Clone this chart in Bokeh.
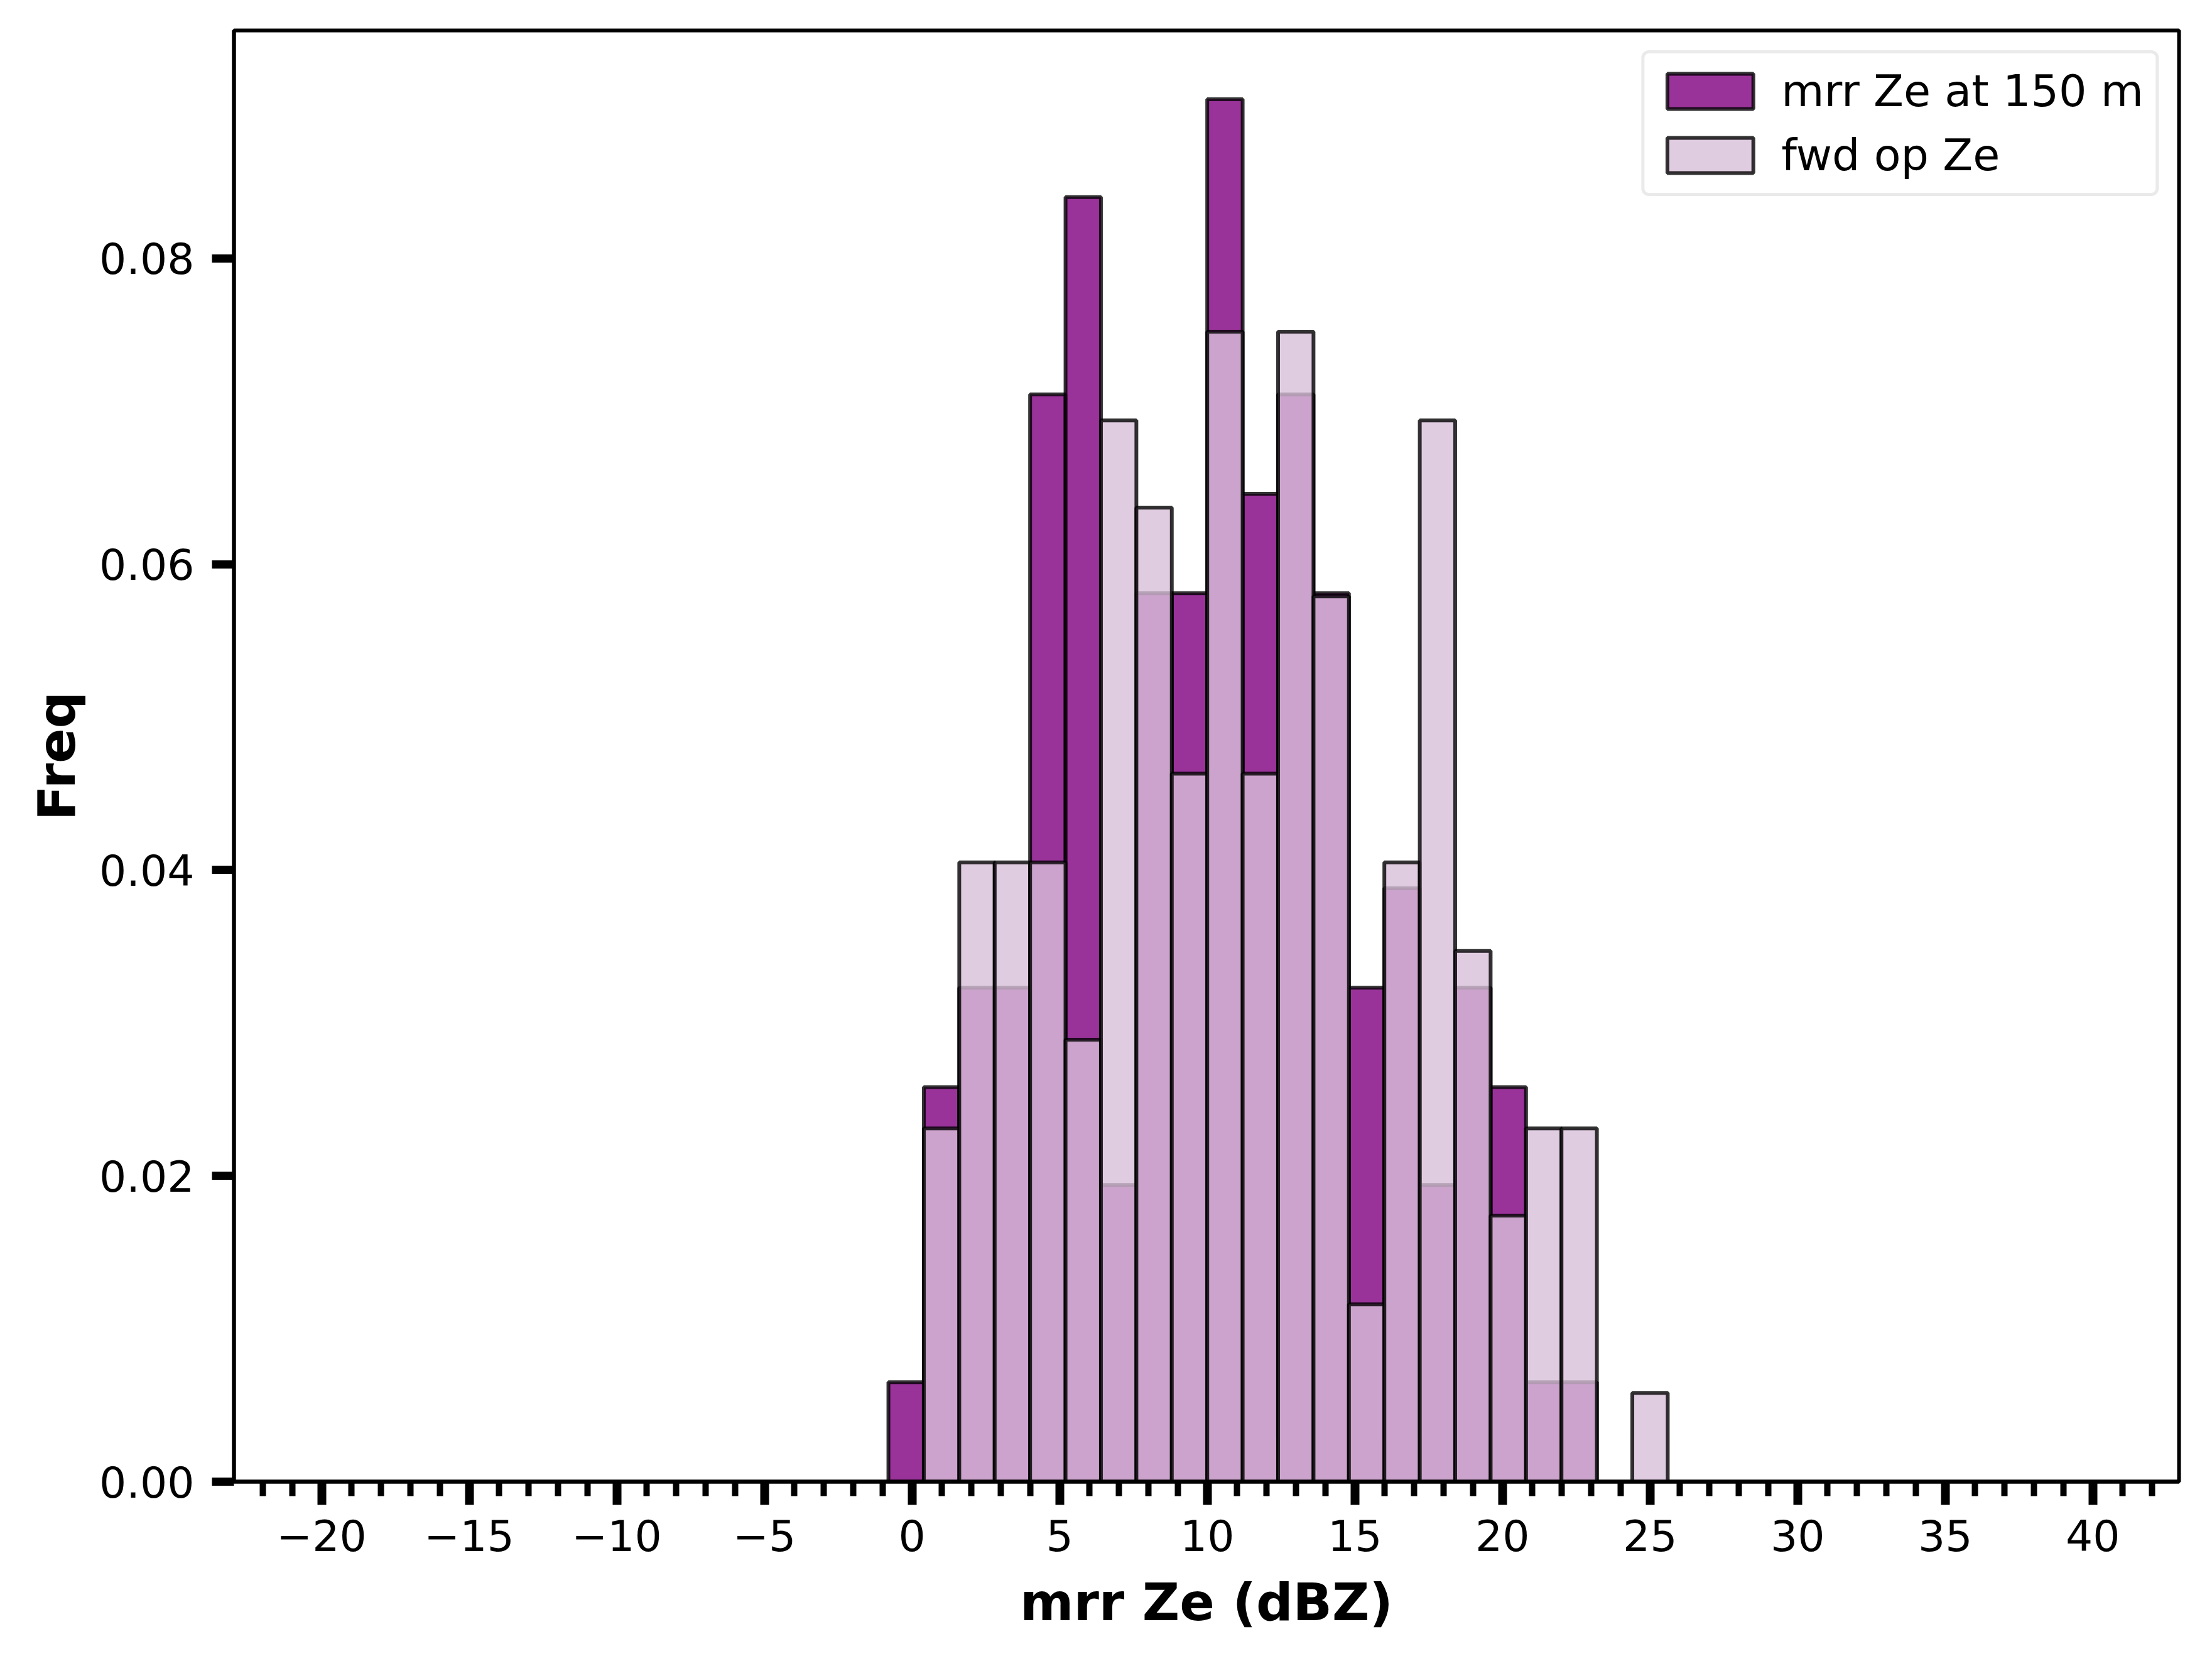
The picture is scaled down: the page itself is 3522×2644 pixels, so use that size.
from bokeh.plotting import figure
from bokeh.models import Range1d, SingleIntervalTicker, FixedTicker, PrintfTickFormatter, CustomJSTickFormatter, ColumnDataSource
from bokeh.embed import file_html
from bokeh.resources import INLINE

# ---- data ----
bin_edges = [-0.8, 0.4, 1.6, 2.8, 4.0, 5.2, 6.4, 7.6, 8.8, 10.0, 11.2, 12.4,
             13.6, 14.8, 16.0, 17.2, 18.4, 19.6, 20.8, 22.0, 23.2, 24.4, 25.6]
mrr_density = [0.0065, 0.0258, 0.0323, 0.0323, 0.0711, 0.0840, 0.0194, 0.0581,
               0.0581, 0.0904, 0.0646, 0.0711, 0.0581, 0.0323, 0.0388, 0.0194,
               0.0323, 0.0258, 0.0065, 0.0065, 0.0, 0.0]
fwd_density = [0.0, 0.0231, 0.0405, 0.0405, 0.0405, 0.0289, 0.0694, 0.0637,
               0.0463, 0.0752, 0.0463, 0.0752, 0.0579, 0.0116, 0.0405, 0.0694,
               0.0347, 0.0174, 0.0231, 0.0231, 0.0, 0.0058]
series_labels = ["mrr Ze at 150 m", "fwd op Ze"]
x_ticks_step = 5
y_ticks = [0.0, 0.02, 0.04, 0.06, 0.08]
x_label = "mrr Ze (dBZ)"
y_label = "Freq"

FONT = "DejaVu Sans"

def src(vals):
    left, right, top = [], [], []
    for i, v in enumerate(vals):
        if v > 0:
            left.append(bin_edges[i]); right.append(bin_edges[i + 1]); top.append(v)
    return ColumnDataSource(dict(left=left, right=right, top=top))

p = figure(frame_width=3097, frame_height=2310,
           x_range=Range1d(-22.97, 42.92), y_range=Range1d(0, 0.0949),
           output_backend="svg", toolbar_location=None,
           min_border_left=372, min_border_right=37, min_border_top=48, min_border_bottom=270)

p.quad(left="left", right="right", top="top", bottom=0, source=src(mrr_density),
       fill_color="purple", fill_alpha=0.8, line_color="black", line_alpha=0.8,
       line_width=6, legend_label=series_labels[0])
p.quad(left="left", right="right", top="top", bottom=0, source=src(fwd_density),
       fill_color="thistle", fill_alpha=0.8, line_color="black", line_alpha=0.8,
       line_width=6, legend_label=series_labels[1])

p.xgrid.visible = False
p.ygrid.visible = False
p.outline_line_color = "black"
p.outline_line_width = 6
p.background_fill_color = "white"

xa = p.xaxis[0]
xa.ticker = SingleIntervalTicker(interval=x_ticks_step, num_minor_ticks=5)
xa.formatter = CustomJSTickFormatter(code="return tick < 0 ? '\u2212' + Math.abs(tick) : String(tick);")
xa.axis_label = x_label
ya = p.yaxis[0]
ya.ticker = FixedTicker(ticks=y_ticks, minor_ticks=[])
ya.formatter = PrintfTickFormatter(format="%.2f")
ya.axis_label = y_label

for ax in (xa, ya):
    ax.axis_line_width = 6
    ax.axis_line_color = "black"
    ax.major_tick_in = 0
    ax.minor_tick_in = 0
    ax.major_label_text_font = FONT
    ax.major_label_text_font_size = "68px"
    ax.major_label_text_color = "black"
    ax.axis_label_text_font = FONT
    ax.axis_label_text_font_style = "bold"
    ax.axis_label_text_font_size = "82px"
    ax.axis_label_text_color = "black"

xa.major_tick_out = 37
xa.major_tick_line_width = 14
xa.minor_tick_out = 23
xa.minor_tick_line_width = 10
xa.major_label_standoff = 23
xa.axis_label_standoff = 31

ya.major_tick_out = 35
ya.major_tick_line_width = 13
ya.major_label_standoff = 28
ya.axis_label_standoff = 17

lg = p.legend[0]
lg.location = "top_right"
lg.margin = 32
lg.padding = 19
lg.spacing = 20
lg.glyph_width = 171
lg.glyph_height = 70
lg.label_height = 80
lg.label_width = 560
lg.label_standoff = 28
lg.label_text_font = FONT
lg.label_text_font_size = "70px"
lg.label_text_color = "black"
lg.border_line_color = "#d6d6d6"
lg.border_line_width = 5
lg.border_radius = 12
lg.background_fill_color = "white"
lg.background_fill_alpha = 0.8

open("out.html", "w").write(file_html(p, INLINE))
